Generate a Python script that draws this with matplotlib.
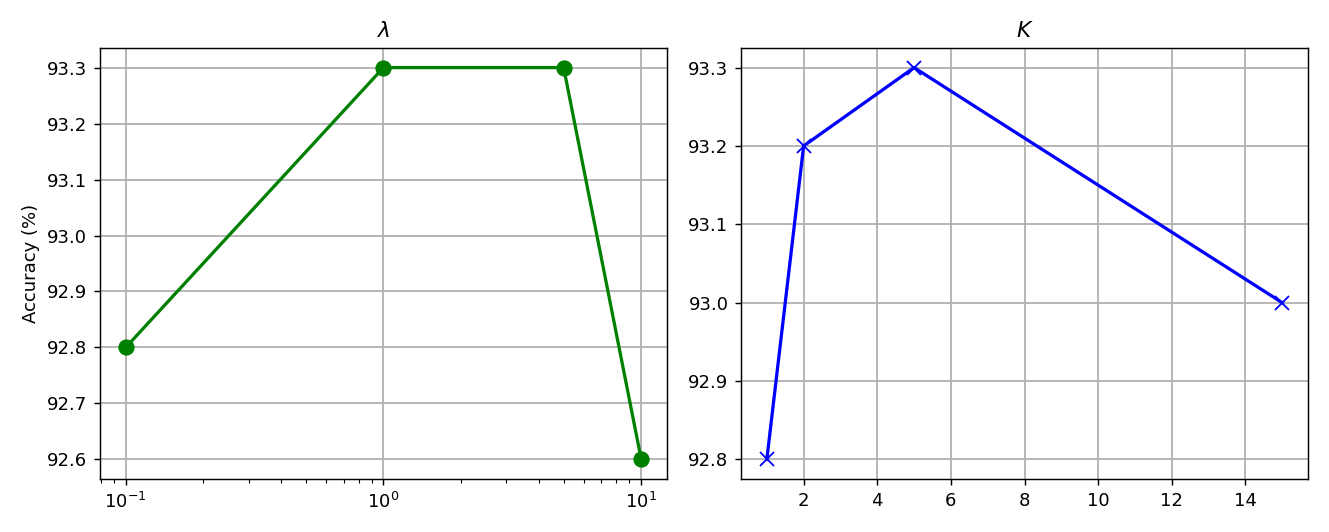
import matplotlib
matplotlib.use("Agg")
import matplotlib.pyplot as plt

lam = [0.1, 1, 5, 10]
lam_acc = [92.8, 93.3, 93.3, 92.6]
k = [1, 2, 5, 15]
k_acc = [92.8, 93.2, 93.3, 93.0]

DPI = 130
fig = plt.figure(figsize=(1329 / DPI, 532 / DPI), dpi=DPI)
ax1 = fig.add_axes([0.0752, 0.0996, 0.4267, 0.8102])
ax2 = fig.add_axes([0.5576, 0.0996, 0.4266, 0.8102])

ax1.plot(lam, lam_acc, color="green", marker="o", markersize=8, linewidth=1.8)
ax1.set_xscale("log")
ax1.set_title(r"$\lambda$")
ax1.set_ylabel("Accuracy (%)")
ax1.grid(True, linewidth=1.0)

ax2.plot(k, k_acc, color="blue", marker="x", markersize=8, linewidth=1.8)
ax2.set_title(r"$K$")
ax2.grid(True, linewidth=1.0)

fig.savefig("out.png", dpi=DPI)
